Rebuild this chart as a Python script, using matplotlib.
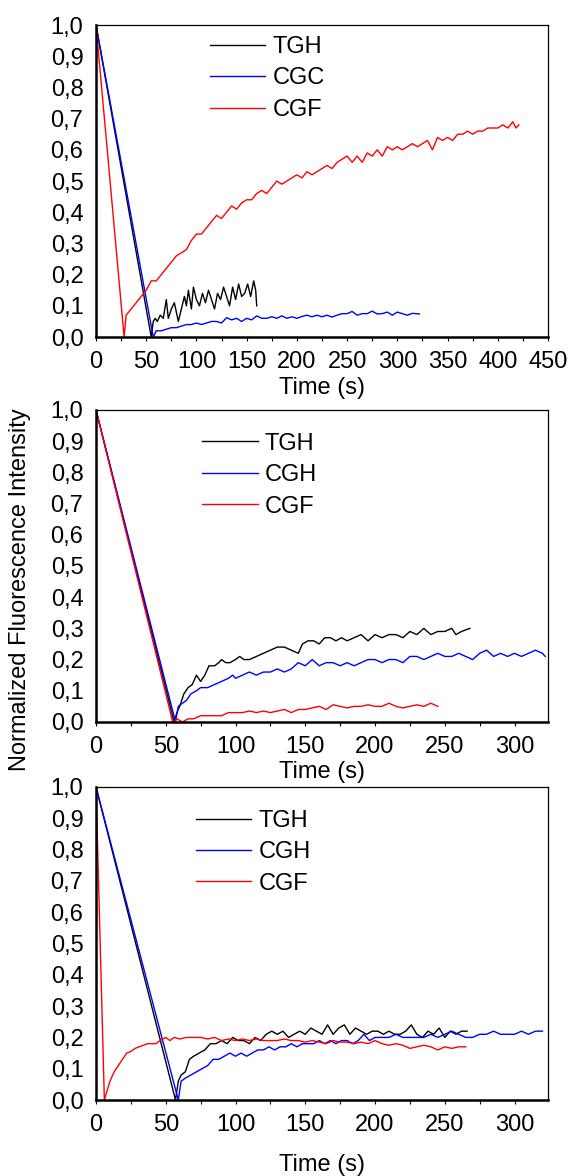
import matplotlib
matplotlib.use('Agg')
import matplotlib.pyplot as plt
from matplotlib.ticker import MultipleLocator

plt.rcParams['font.family'] = ['Liberation Sans', 'DejaVu Sans']
plt.rcParams['font.size'] = 17

BLACK, BLUE, RED = '#000000', '#0000ff', '#ff0000'

Y_TICKS = [0.0, 0.1, 0.2, 0.3, 0.4, 0.5, 0.6, 0.7, 0.8, 0.9, 1.0]
Y_TICK_LABELS = ['0,0', '0,1', '0,2', '0,3', '0,4', '0,5', '0,6', '0,7', '0,8', '0,9', '1,0']

# ---- panel A ----
a_tgh_t = [0, 55, 57, 59, 61, 64, 67, 70, 72, 75, 78, 80, 82, 85, 88, 90, 92, 95, 97, 100,
           103, 106, 109, 112, 115, 118, 121, 124, 127, 130, 133, 136, 139, 142, 145, 148,
           151, 154, 157, 159, 160]
a_tgh_y = [1.0, 0.0, 0.05, 0.06, 0.05, 0.07, 0.06, 0.12, 0.06, 0.09, 0.11, 0.08, 0.05, 0.09,
           0.13, 0.10, 0.15, 0.09, 0.16, 0.12, 0.10, 0.14, 0.11, 0.15, 0.12, 0.09, 0.14, 0.12,
           0.16, 0.13, 0.10, 0.16, 0.12, 0.17, 0.13, 0.14, 0.17, 0.13, 0.18, 0.15, 0.10]
a_cgc_t = [0, 57, 60, 65, 70, 75, 80, 85, 90, 95, 100, 105, 110, 115, 120, 125, 130, 135, 140,
           145, 150, 155, 160, 165, 170, 175, 180, 185, 190, 195, 200, 205, 210, 215, 220, 225,
           230, 235, 240, 245, 250, 255, 260, 265, 270, 275, 280, 285, 290, 295, 300, 305, 310,
           315, 322]
a_cgc_y = [1.0, 0.0, 0.02, 0.02, 0.025, 0.03, 0.03, 0.035, 0.04, 0.04, 0.045, 0.04, 0.045,
           0.05, 0.05, 0.045, 0.062, 0.055, 0.06, 0.05, 0.06, 0.055, 0.068, 0.06, 0.06, 0.065,
           0.06, 0.068, 0.06, 0.065, 0.06, 0.066, 0.07, 0.065, 0.07, 0.065, 0.07, 0.064, 0.07,
           0.075, 0.075, 0.082, 0.07, 0.075, 0.075, 0.083, 0.074, 0.075, 0.08, 0.07, 0.08,
           0.075, 0.07, 0.076, 0.074]
a_cgf_t = [0, 28, 30, 35, 40, 45, 50, 55, 60, 65, 70, 75, 80, 85, 90, 95, 100, 105, 110, 115,
           120, 125, 130, 135, 140, 145, 150, 155, 160, 165, 170, 175, 180, 185, 190, 195, 200,
           205, 210, 215, 220, 225, 230, 235, 240, 245, 250, 255, 260, 265, 270, 275, 280, 285,
           290, 295, 300, 305, 310, 315, 320, 325, 330, 335, 340, 345, 350, 355, 360, 365, 370,
           375, 380, 385, 390, 395, 400, 405, 410, 415, 418, 421]
a_cgf_y = [1.0, 0.0, 0.07, 0.09, 0.11, 0.13, 0.15, 0.18, 0.18, 0.20, 0.22, 0.24, 0.26, 0.27,
           0.28, 0.31, 0.33, 0.33, 0.35, 0.37, 0.39, 0.38, 0.40, 0.42, 0.41, 0.43, 0.44, 0.44,
           0.46, 0.47, 0.46, 0.48, 0.50, 0.49, 0.50, 0.51, 0.52, 0.51, 0.53, 0.52, 0.53, 0.54,
           0.55, 0.54, 0.56, 0.57, 0.58, 0.56, 0.58, 0.56, 0.59, 0.58, 0.60, 0.58, 0.61, 0.60,
           0.61, 0.60, 0.61, 0.62, 0.61, 0.62, 0.63, 0.60, 0.64, 0.63, 0.64, 0.63, 0.65, 0.65,
           0.66, 0.65, 0.66, 0.66, 0.67, 0.67, 0.67, 0.68, 0.67, 0.69, 0.67, 0.68]

# ---- panel B ----
b_tgh_t = [0, 56, 58, 60, 63, 66, 69, 72, 75, 78, 81, 85, 88, 90, 93, 96, 100, 103, 106, 110,
           115, 120, 125, 130, 135, 140, 145, 148, 152, 156, 160, 164, 168, 172, 176, 180, 185,
           190, 195, 200, 205, 210, 215, 220, 225, 230, 235, 240, 245, 250, 255, 258, 262, 268]
b_tgh_y = [1.0, 0.0, 0.03, 0.05, 0.09, 0.11, 0.12, 0.15, 0.13, 0.15, 0.18, 0.18, 0.19, 0.20,
           0.19, 0.19, 0.20, 0.21, 0.20, 0.20, 0.21, 0.22, 0.23, 0.24, 0.24, 0.23, 0.22, 0.25,
           0.26, 0.26, 0.25, 0.27, 0.27, 0.26, 0.27, 0.26, 0.27, 0.28, 0.26, 0.28, 0.27, 0.28,
           0.28, 0.27, 0.29, 0.28, 0.30, 0.28, 0.29, 0.29, 0.30, 0.28, 0.29, 0.30]
b_cgh_t = [0, 57, 59, 62, 65, 68, 72, 75, 80, 85, 90, 95, 98, 100, 105, 110, 115, 120, 125,
           130, 135, 140, 145, 150, 155, 160, 165, 170, 175, 180, 185, 190, 195, 200, 205, 210,
           215, 220, 225, 230, 235, 240, 245, 250, 255, 260, 265, 270, 275, 280, 285, 290, 295,
           300, 305, 310, 315, 320, 322]
b_cgh_y = [1.0, 0.0, 0.05, 0.06, 0.07, 0.09, 0.10, 0.11, 0.11, 0.12, 0.13, 0.14, 0.15, 0.14,
           0.15, 0.16, 0.15, 0.16, 0.16, 0.17, 0.16, 0.17, 0.19, 0.18, 0.20, 0.18, 0.19, 0.19,
           0.18, 0.19, 0.18, 0.19, 0.20, 0.20, 0.19, 0.20, 0.20, 0.19, 0.21, 0.21, 0.20, 0.21,
           0.22, 0.21, 0.21, 0.22, 0.21, 0.20, 0.22, 0.23, 0.21, 0.22, 0.21, 0.22, 0.21, 0.22,
           0.23, 0.22, 0.21]
b_cgf_t = [0, 55, 58, 62, 66, 70, 75, 80, 85, 90, 95, 100, 105, 110, 115, 120, 125, 130, 135,
           140, 145, 150, 155, 160, 165, 170, 175, 180, 185, 190, 195, 200, 205, 210, 215, 220,
           225, 230, 235, 240, 245]
b_cgf_y = [1.0, 0.0, 0.01, 0.0, 0.01, 0.01, 0.02, 0.02, 0.02, 0.02, 0.03, 0.03, 0.03, 0.035,
           0.03, 0.035, 0.03, 0.035, 0.04, 0.03, 0.04, 0.04, 0.045, 0.05, 0.04, 0.055, 0.05,
           0.045, 0.05, 0.05, 0.055, 0.05, 0.05, 0.06, 0.05, 0.045, 0.05, 0.055, 0.05, 0.06,
           0.05]

# ---- panel C ----
c_tgh_t = [0, 57, 59, 61, 64, 67, 70, 74, 78, 82, 86, 90, 94, 98, 102, 106, 110, 114, 118,
           122, 126, 130, 134, 138, 142, 146, 150, 154, 158, 162, 166, 170, 174, 178, 182, 186,
           190, 194, 198, 202, 206, 210, 214, 218, 222, 226, 230, 234, 238, 242, 246, 250, 254,
           258, 262, 266]
c_tgh_y = [1.0, 0.0, 0.06, 0.08, 0.09, 0.13, 0.14, 0.15, 0.16, 0.18, 0.18, 0.19, 0.18, 0.20,
           0.19, 0.19, 0.18, 0.20, 0.19, 0.21, 0.22, 0.21, 0.22, 0.20, 0.21, 0.22, 0.21, 0.23,
           0.22, 0.21, 0.24, 0.21, 0.23, 0.24, 0.21, 0.23, 0.22, 0.21, 0.22, 0.22, 0.21, 0.22,
           0.21, 0.21, 0.22, 0.24, 0.21, 0.20, 0.22, 0.21, 0.23, 0.20, 0.22, 0.21, 0.22, 0.22]
c_cgh_t = [0, 59, 61, 64, 68, 72, 76, 80, 84, 88, 92, 96, 100, 104, 108, 112, 116, 120, 124,
           128, 132, 136, 140, 144, 148, 152, 156, 160, 164, 168, 172, 176, 180, 184, 188, 192,
           196, 200, 205, 210, 215, 220, 225, 230, 235, 240, 245, 250, 255, 260, 265, 270, 275,
           280, 285, 290, 295, 300, 305, 310, 315, 320]
c_cgh_y = [1.0, 0.0, 0.06, 0.07, 0.08, 0.09, 0.10, 0.11, 0.13, 0.13, 0.14, 0.15, 0.14, 0.15,
           0.14, 0.15, 0.16, 0.16, 0.17, 0.16, 0.17, 0.17, 0.18, 0.17, 0.18, 0.18, 0.18, 0.19,
           0.18, 0.19, 0.18, 0.19, 0.19, 0.18, 0.19, 0.21, 0.19, 0.20, 0.20, 0.20, 0.21, 0.20,
           0.20, 0.20, 0.20, 0.21, 0.20, 0.21, 0.22, 0.21, 0.20, 0.20, 0.21, 0.21, 0.22, 0.21,
           0.21, 0.21, 0.22, 0.21, 0.22, 0.22]
c_cgf_t = [0, 6, 8, 10, 13, 16, 19, 22, 25, 28, 31, 34, 37, 40, 43, 46, 50, 53, 56, 60, 65,
           70, 75, 80, 85, 90, 95, 100, 105, 110, 115, 120, 125, 130, 135, 140, 145, 150, 155,
           160, 165, 170, 175, 180, 185, 190, 195, 200, 205, 210, 215, 220, 225, 230, 235, 240,
           245, 250, 255, 260, 265]
c_cgf_y = [1.0, 0.0, 0.03, 0.06, 0.09, 0.11, 0.13, 0.15, 0.155, 0.165, 0.17, 0.175, 0.18,
           0.18, 0.18, 0.19, 0.20, 0.19, 0.20, 0.195, 0.20, 0.20, 0.20, 0.195, 0.20, 0.19,
           0.195, 0.19, 0.195, 0.19, 0.195, 0.19, 0.19, 0.19, 0.195, 0.19, 0.19, 0.185, 0.19,
           0.185, 0.18, 0.19, 0.185, 0.185, 0.18, 0.185, 0.18, 0.19, 0.18, 0.175, 0.18, 0.175,
           0.165, 0.17, 0.175, 0.17, 0.16, 0.17, 0.165, 0.17, 0.17]

panels = [
    dict(series=[(a_tgh_t, a_tgh_y, BLACK, 'TGH'), (a_cgc_t, a_cgc_y, BLUE, 'CGC'),
                 (a_cgf_t, a_cgf_y, RED, 'CGF')],
         rect=[0.1687, 0.7134, 0.7944, 0.2653], xmax=450, leg_x=0.252, leg_y=0.965, labelpad=3),
    dict(series=[(b_tgh_t, b_tgh_y, BLACK, 'TGH'), (b_cgh_t, b_cgh_y, BLUE, 'CGH'),
                 (b_cgf_t, b_cgf_y, RED, 'CGF')],
         rect=[0.1687, 0.3861, 0.7944, 0.2653], xmax=324, leg_x=0.235, leg_y=0.927, labelpad=2),
    dict(series=[(c_tgh_t, c_tgh_y, BLACK, 'TGH'), (c_cgh_t, c_cgh_y, BLUE, 'CGH'),
                 (c_cgf_t, c_cgf_y, RED, 'CGF')],
         rect=[0.1687, 0.0646, 0.7944, 0.2662], xmax=324, leg_x=0.221, leg_y=0.927, labelpad=13),
]

fig = plt.figure(figsize=(5.69, 11.76), dpi=100)

for p in panels:
    ax = fig.add_axes(p['rect'])
    for t, y, c, name in p['series']:
        ax.plot(t, y, color=c, lw=1.0, label=name)
    ax.set_xlim(0, p['xmax'])
    ax.set_ylim(0, 1.0)
    ax.set_yticks(Y_TICKS)
    ax.set_yticklabels(Y_TICK_LABELS)
    ax.xaxis.set_major_locator(MultipleLocator(50))
    ax.xaxis.set_minor_locator(MultipleLocator(25))
    ax.tick_params(axis='x', which='both', direction='out', length=3, width=0.8, pad=7)
    ax.tick_params(axis='y', direction='out', length=0, pad=9)
    for s in ['left', 'bottom']:
        ax.spines[s].set_linewidth(1.8)
    for s in ['top', 'right']:
        ax.spines[s].set_linewidth(0.9)
    ax.set_xlabel('Time (s)', labelpad=p['labelpad'])
    ax.legend(loc='upper left', bbox_to_anchor=(p['leg_x'], p['leg_y']), frameon=False,
              handlelength=2.35, handletextpad=0.3, labelspacing=0.4, borderpad=0,
              borderaxespad=0, fontsize=17)

fig.text(0.036, 0.499, 'Normalized Fluorescence Intensity', rotation=90,
         ha='center', va='center', fontsize=17)

fig.savefig('out.png', dpi=100)
